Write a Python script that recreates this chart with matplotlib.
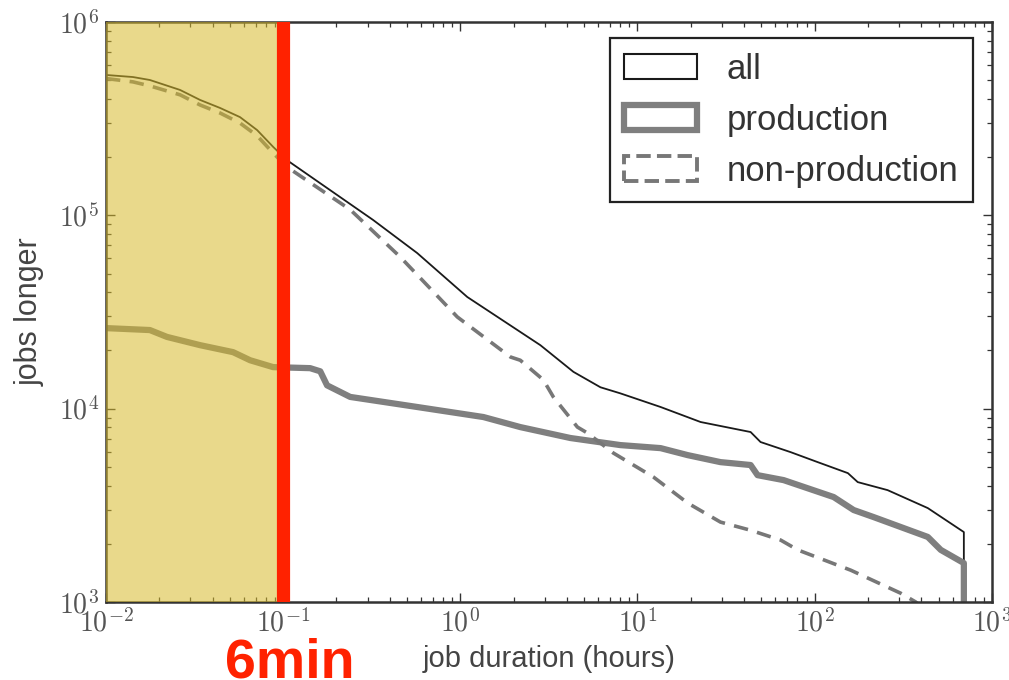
import matplotlib
matplotlib.use("Agg")
import numpy as np
import matplotlib.pyplot as plt
from matplotlib.patches import Patch
from matplotlib.ticker import FuncFormatter

plt.rcParams['font.family'] = ['Liberation Sans', 'DejaVu Sans']
plt.rcParams['mathtext.fontset'] = 'cm'

# job duration (hours) vs. number of jobs longer than that
hours_all = [0.01, 0.0142, 0.0177, 0.0262, 0.034, 0.0441, 0.0571, 0.0713,
             0.0878, 0.105, 0.322, 0.571, 1.095, 2.83, 4.35, 6.18, 8.0, 13.5,
             22.7, 43.5, 49.5, 73.1, 104, 154, 175, 258, 435, 695, 695]
jobs_all = [532e3, 519e3, 501e3, 445e3, 395e3, 359e3, 322e3, 276e3, 226e3,
            193e3, 94.6e3, 63.8e3, 37.8e3, 21.3e3, 15.5e3, 12.9e3, 12.0e3,
            10.2e3, 8.53e3, 7.57e3, 6.72e3, 5.96e3, 5.29e3, 4.64e3, 4.17e3,
            3.79e3, 3.06e3, 2.30e3, 1]

hours_prod = [0.01, 0.0177, 0.0221, 0.034, 0.0522, 0.0651, 0.0878, 0.142,
              0.162, 0.177, 0.239, 0.571, 1.35, 2.18, 4.18, 8.0, 13.5, 19.2,
              29.4, 43.5, 47.6, 66.8, 128, 166, 215, 435, 515, 695, 695]
jobs_prod = [26.1e3, 25.5e3, 23.5e3, 21.3e3, 19.6e3, 17.8e3, 16.4e3, 16.2e3,
             15.6e3, 13.2e3, 11.5e3, 10.2e3, 9.05e3, 8.03e3, 7.05e3, 6.48e3,
             6.25e3, 5.75e3, 5.29e3, 5.11e3, 4.53e3, 4.27e3, 3.49e3, 2.99e3,
             2.75e3, 2.17e3, 1.86e3, 1.59e3, 1]

hours_nonprod = [0.01, 0.0142, 0.0177, 0.0262, 0.034, 0.0441, 0.0571, 0.0713,
                 0.0878, 0.105, 0.239, 0.458, 0.962, 1.92, 2.18, 2.94, 3.35,
                 4.58, 5.22, 7.32, 12.3, 19.2, 29.4, 43.5, 64.3, 80.2, 160,
                 306, 372, 420]
jobs_nonprod = [510e3, 490e3, 467e3, 420e3, 372e3, 338e3, 300e3, 258e3,
                210e3, 178e3, 107e3, 60.9e3, 29.8e3, 18.5e3, 17.8e3, 14.1e3,
                11.5e3, 8.03e3, 7.48e3, 5.89e3, 4.43e3, 3.25e3, 2.59e3,
                2.35e3, 2.09e3, 1.86e3, 1.46e3, 1.11e3, 1.0e3, 0.9e3]

cutoff = 0.1  # 6 minutes

fig = plt.figure(figsize=(10.09, 6.8), dpi=100)
ax = fig.add_axes([0.105, 0.1147, 0.878, 0.853])

ax.plot(hours_all, jobs_all, color='#1a1a1a', lw=1.3, zorder=2)
ax.plot(hours_prod, jobs_prod, color='#7f7f7f', lw=4.5, zorder=2)
ax.plot(hours_nonprod, jobs_nonprod, color='#777777', lw=2.6,
        dashes=(4, 2.6), zorder=2)

ax.set_xscale('log')
ax.set_yscale('log')
ax.set_xlim(1e-2, 1e3)
ax.set_ylim(1e3, 1e6)

decade = FuncFormatter(lambda v, p: r'$10^{%d}$' % int(round(np.log10(v))))
ax.xaxis.set_major_formatter(decade)
ax.yaxis.set_major_formatter(decade)

# highlighted region and 6 minute marker
ax.axvspan(1e-2, cutoff, color='#d7ba2c', alpha=0.55, lw=0, zorder=3)
ax.axvline(cutoff, color='#ff2200', lw=9.5, zorder=4)

ax.set_xlabel('job duration (hours)', fontsize=21, color='#444444', labelpad=5)
ax.set_ylabel('jobs longer', fontsize=22, color='#444444', labelpad=10)

ax.tick_params(which='both', direction='in', top=True, right=True,
               colors='#333333', labelcolor='#555555', labelsize=20)
ax.tick_params(which='major', length=6.5, width=1.0, pad=5)
ax.tick_params(which='minor', length=3.6, width=0.9)
for s in ax.spines.values():
    s.set_linewidth(1.8)
    s.set_color('#333333')

handles = [Patch(facecolor='none', edgecolor='#1a1a1a', lw=1.5),
           Patch(facecolor='none', edgecolor='#7f7f7f', lw=4.5),
           Patch(facecolor='none', edgecolor='#777777', lw=2.8, linestyle='--')]
leg = ax.legend(handles, ['all', 'production', 'non-production'],
                loc='upper right', bbox_to_anchor=(0.9786, 0.9724),
                borderaxespad=0, fontsize=25, fancybox=False, framealpha=1,
                handlelength=2.1, handleheight=0.75, labelspacing=0.52,
                handletextpad=0.85, borderpad=0.42)
leg.get_frame().set_edgecolor('#222222')
leg.get_frame().set_linewidth(1.6)
for t in leg.get_texts():
    t.set_color('#333333')

fig.text(225 / 1009, 0.004, '6min', color='#ff2200', fontsize=40,
         fontweight='bold', ha='left', va='baseline')

fig.savefig('out.png', dpi=100)
